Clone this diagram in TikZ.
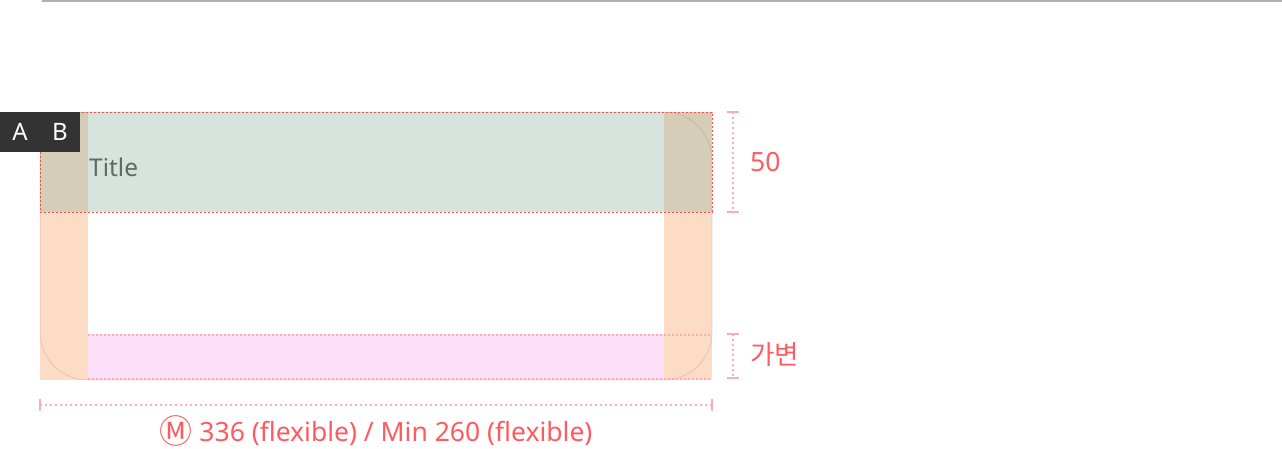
\documentclass[tikz,border=0pt]{standalone}
\usepackage{fontspec}
\setmainfont{Noto Sans}
\newfontfamily\krfont{Noto Sans CJK KR}
\usepackage{tikz}
\usetikzlibrary{calc,positioning}
\definecolor{peach}{HTML}{FDDCC6}
\definecolor{sage}{HTML}{D7E4DD}
\definecolor{overlap}{HTML}{D6CDB9}
\definecolor{blush}{HTML}{FDE0F8}
\definecolor{redline}{HTML}{FF5050}
\definecolor{pinkline}{HTML}{FFAAB4}
\definecolor{labelred}{HTML}{FF5A5F}
\definecolor{badge}{HTML}{333333}
\definecolor{titlegrey}{HTML}{5E6B63}

\begin{document}
\begin{tikzpicture}[x=1pt,y=-1pt,
    dimline/.style={pinkline,line width=2pt,dash pattern=on 2pt off 3pt},
    dimcap/.style={pinkline,line width=2pt},
    dimlabel/.style={labelred,font=\fontsize{26.5}{30}\selectfont,inner sep=0pt}]
  \useasboundingbox (0,0) rectangle (1282,448);
  % top rule
  \draw[black!31,line width=2pt] (42,1) -- (1282,1);
  % side strips and bands
  \fill[peach] (40,112) rectangle (88,380);
  \fill[peach] (664,112) rectangle (712,380);
  \fill[sage] (88,112) rectangle (664,212);
  \fill[overlap] (40,112) rectangle (88,212);
  \fill[overlap] (664,112) rectangle (712,212);
  \fill[blush] (88,334) rectangle (664,380);
  % card outline
  \draw[black,opacity=0.09,line width=1pt,rounded corners=48pt]
    (40,112) rectangle (712,380);
  % guides
  \draw[redline,line width=0.8pt,dash pattern=on 2pt off 2pt] (40,112) rectangle (712,212);
  \draw[pinkline,line width=2pt,dash pattern=on 2pt off 2pt] (88,334.5) -- (712,334.5);
  \draw[pinkline,line width=2pt,dash pattern=on 2pt off 2pt] (88,379) -- (712,379);
  % badge and title
  \node[fill=badge,minimum width=80pt,minimum height=40pt,inner sep=0pt,anchor=north west]
    (badge) at (0,112) {};
  \node[white,font=\fontsize{24}{28}\selectfont,inner sep=0pt] (a) at (20,132) {A};
  \node[white,font=\fontsize{24}{28}\selectfont,inner sep=0pt] (b) at (60,132) {B};
  \node[titlegrey,font=\fontsize{24.5}{28}\selectfont,inner sep=0pt,anchor=west]
    (title) at (89,167) {Title};
  % height dimensions
  \coordinate (h1t) at (733,112);
  \coordinate (h1b) at (733,212);
  \coordinate (h2t) at (733,334);
  \coordinate (h2b) at (733,378);
  \draw[dimline] (h1t) -- (h1b);
  \draw[dimline] (h2t) -- (h2b);
  \foreach \p in {h1t,h1b,h2t,h2b}
    \draw[dimcap] ($(\p)+(-6,0)$) -- ($(\p)+(6,0)$);
  \node[dimlabel,anchor=west] (fifty) at (750,162) {50};
  \node[dimlabel,anchor=west] (vary) at (750,355) {\krfont 가변};
  % width dimension
  \coordinate (wl) at (40,404.5);
  \coordinate (wr) at (712,404.5);
  \draw[dimline] (wl) -- (wr);
  \foreach \p in {wl,wr}
    \draw[dimcap] ($(\p)+(0,-6)$) -- ($(\p)+(0,6)$);
  \node[dimlabel] (width) at (376,431)
    {{\krfont\fontsize{33}{30}\selectfont\raisebox{-2pt}{Ⓜ}} 336 (flexible) / Min 260 (flexible)};
\end{tikzpicture}
\end{document}
